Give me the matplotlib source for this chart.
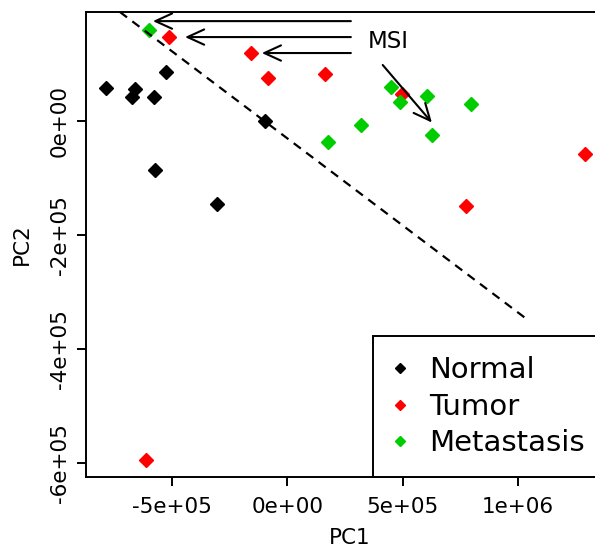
import matplotlib
matplotlib.use("Agg")
import matplotlib.pyplot as plt

# PCA scores
normal_pc1 = [-785e3, -660e3, -673e3, -578e3, -526e3, -97e3, -573e3, -305e3]
normal_pc2 = [58e3, 56e3, 42e3, 42e3, 86e3, 0, -86e3, -146e3]
tumor_pc1 = [-511e3, -157e3, -84e3, 165e3, 497e3, 1290e3, 774e3, -612e3]
tumor_pc2 = [147e3, 119e3, 75e3, 82e3, 47e3, -58e3, -149e3, -595e3]
meta_pc1 = [-598e3, 449e3, 490e3, 605e3, 796e3, 322e3, 176e3, 627e3]
meta_pc2 = [160e3, 60e3, 33e3, 44e3, 30e3, -7e3, -37e3, -25e3]

xticks = [-5e5, 0, 5e5, 1e6]
xlabels = ["-5e+05", "0e+00", "5e+05", "1e+06"]
yticks = [0, -2e5, -4e5, -6e5]
ylabels = ["0e+00", "-2e+05", "-4e+05", "-6e+05"]

plt.rcParams["font.family"] = "DejaVu Sans"

fig = plt.figure(figsize=(5.95, 5.5), dpi=100)
ax = fig.add_axes([86/595, 73/550, 518/595, 465/550])

ax.plot(normal_pc1, normal_pc2, "D", color="black", ms=6.8, label="Normal", clip_on=False)
ax.plot(tumor_pc1, tumor_pc2, "D", color="#FF0000", ms=6.8, label="Tumor", clip_on=False)
ax.plot(meta_pc1, meta_pc2, "D", color="#00CD00", ms=6.8, label="Metastasis", clip_on=False)

# separating line
ax.plot([-725e3, 1045e3], [191e3, -350e3], "k--", lw=1.6, dashes=(4, 3))

# MSI arrows
arr = dict(arrowstyle="->,head_length=1.2,head_width=0.55", color="black", lw=1.5,
           shrinkA=0, shrinkB=0)
for tip in [(-582e3, 175e3), (-443e3, 147e3), (-110e3, 119e3)]:
    ax.annotate("", xy=tip, xytext=(276e3, tip[1]), arrowprops=arr)
ax.annotate("", xy=(627e3, -3e3), xytext=(414e3, 98e3), arrowprops=arr)
ax.text(347e3, 140e3, "MSI", fontsize=16.5, va="center", ha="left")

ax.set_xlim(-872e3, 1373e3)
ax.set_ylim(-625e3, 191e3)
ax.set_xticks(xticks)
ax.set_xticklabels(xlabels)
ax.set_yticks(yticks)
ax.set_yticklabels(ylabels, rotation=90, va="center")
ax.tick_params(labelsize=15.5, length=6.5, width=1.4)
ax.tick_params(axis="x", pad=8)
ax.tick_params(axis="y", pad=5)
for s in ax.spines.values():
    s.set_linewidth(1.4)

ax.set_xlabel("PC1", fontsize=15.5)
ax.set_ylabel("PC2", fontsize=15.5)
ax.xaxis.set_label_coords(0.51, -0.11)
ax.yaxis.set_label_coords(-0.104, 0.5)

leg = ax.legend(loc="lower right", borderaxespad=0, fontsize=21, fancybox=False,
                edgecolor="black", markerscale=0.8, handlelength=0.52,
                handletextpad=0.74, labelspacing=0.3, borderpad=0.67)
leg.get_frame().set_linewidth(1.4)
leg.get_frame().set_alpha(1)

fig.savefig("out.png", dpi=100)
